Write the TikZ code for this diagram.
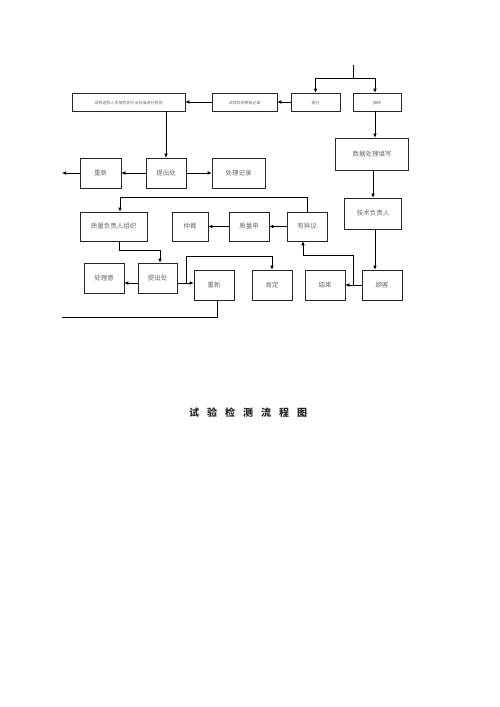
\documentclass[tikz,border=0pt]{standalone}
\usepackage{fontspec}
\newfontfamily\cjk{Noto Sans CJK SC}
\usetikzlibrary{arrows.meta}
\begin{document}
\begin{tikzpicture}[x=1pt, y=-1pt, line width=0.6pt,
			box/.style={draw, draw=black!85, rectangle, inner sep=0pt, font=\cjk\fontsize{6.5}{8}\selectfont, text=black!60},
			slim/.style={box, minimum height=18pt, font=\cjk\fontsize{4}{5}\selectfont},
			arr/.style={-{Latex[length=4pt, width=3.5pt]}}]

		\useasboundingbox (0,0) rectangle (500,707);

		% top row
		\node[slim, minimum width=113pt] (rep) at (128.5,102) {\raisebox{-5pt}{试样送检人员按检测方法标准进行检测}};
		\node[slim, minimum width=65pt] (rec) at (244.5,102) {\raisebox{-5pt}{试样检测原始记录}};
		\node[slim, minimum width=49pt] (wt) at (315.5,102) {\raisebox{-5pt}{委托}};
		\node[slim, minimum width=48pt] (cy) at (377,102) {\raisebox{-5pt}{抽样}};

		% second row
		\node[box, minimum width=41pt, minimum height=30pt] (cx1) at (100.5,173) {重新};
		\node[box, minimum width=40pt, minimum height=30pt] (tc1) at (166,173) {提出处};
		\node[box, minimum width=53pt, minimum height=30pt] (jl) at (238.5,173) {处理记录};
		\node[box, minimum width=73pt, minimum height=32pt] (sj) at (372,154) {数据处理填写};
		\node[box, minimum width=57pt, minimum height=31pt] (js) at (373,213.5) {技术负责人};

		% third row
		\node[box, minimum width=67pt, minimum height=29pt] (zf) at (113.5,226.5) {质量负责人组织};
		\node[box, minimum width=36pt, minimum height=29pt] (zc) at (190,226.5) {仲裁};
		\node[box, minimum width=40pt, minimum height=29pt] (zs) at (249,226.5) {质量申};
		\node[box, minimum width=40pt, minimum height=29pt] (yy) at (307,226.5) {有异议};

		% bottom row
		\node[box, minimum width=40pt, minimum height=30pt] (cl) at (104,278) {处理意};
		\node[box, minimum width=39pt, minimum height=30pt] (tc2) at (157.5,278) {提出处};
		\node[box, minimum width=40pt, minimum height=30pt] (cx2) at (214,285) {重新};
		\node[box, minimum width=40pt, minimum height=30pt] (kd) at (272,285) {肯定};
		\node[box, minimum width=40pt, minimum height=30pt] (jsu) at (325,285) {结束};
		\node[box, minimum width=40pt, minimum height=30pt] (gk) at (382,285) {顾客};

		\node[font=\cjk\bfseries\fontsize{10}{12}\selectfont, text=black!85] (title) at (248,413)
			{试\hspace{8pt}验\hspace{8pt}检\hspace{8pt}测\hspace{8pt}流\hspace{8pt}程\hspace{8pt}图};

		\coordinate (in) at (353,65);
		\coordinate (sp) at (353,78);
		\coordinate (le) at (62,173);
		\coordinate (yt) at (120,197);
		\coordinate (zb) at (160,250);
		\coordinate (br) at (186,283);
		\coordinate (kt) at (186,256);
		\coordinate (gb) at (353,285);
		\coordinate (gt) at (353,255);
		\coordinate (lo) at (62,317);

		\draw (in) -- (sp);
		\draw[arr] (sp) -| (wt.north);
		\draw[arr] (sp) -| ([xshift=-2pt]cy.north);
		\draw[arr] (wt.west) -- (rec.east);
		\draw[arr] (rec.west) -- (rep.east);
		\draw[arr] (rep.south -| tc1.north) -- (tc1.north);
		\draw[arr] (tc1.west) -- (cx1.east);
		\draw[arr] (tc1.east) -- (jl.west);
		\draw[arr] (cx1.west) -- (le);

		\draw[arr] ([xshift=-2pt]cy.south) -- ([xshift=-2pt]cy.south |- sj.north);
		\draw[arr] (sj.south -| js.north) -- (js.north);
		\draw[arr] ([xshift=2pt]js.south) -- ([xshift=2pt]js.south |- gk.north);

		\draw[arr] (yy.west) -- (zs.east);
		\draw[arr] (zs.west) -- (zc.east);
		\draw[arr] (yy.north) |- (yt) -- (yt |- zf.north);
		\draw[arr] ([xshift=6pt]zf.south) |- (zb) -- (zb |- tc2.north);

		\draw[arr] ([yshift=-5pt]tc2.west) -- ([yshift=-5pt]tc2.west -| cl.east);
		\draw[arr] ([yshift=-5pt]tc2.east) -- ([yshift=-5pt]tc2.east -| cx2.west);
		\draw[arr] (br) -- (kt) -| (kd.north);
		\draw[arr] (gk.west) -- (jsu.east);
		\draw[arr] (gb) -- (gt) -| ([xshift=-4pt]yy.south);
		\draw ([xshift=3pt]cx2.south) |- (lo);
	\end{tikzpicture}
\end{document}
